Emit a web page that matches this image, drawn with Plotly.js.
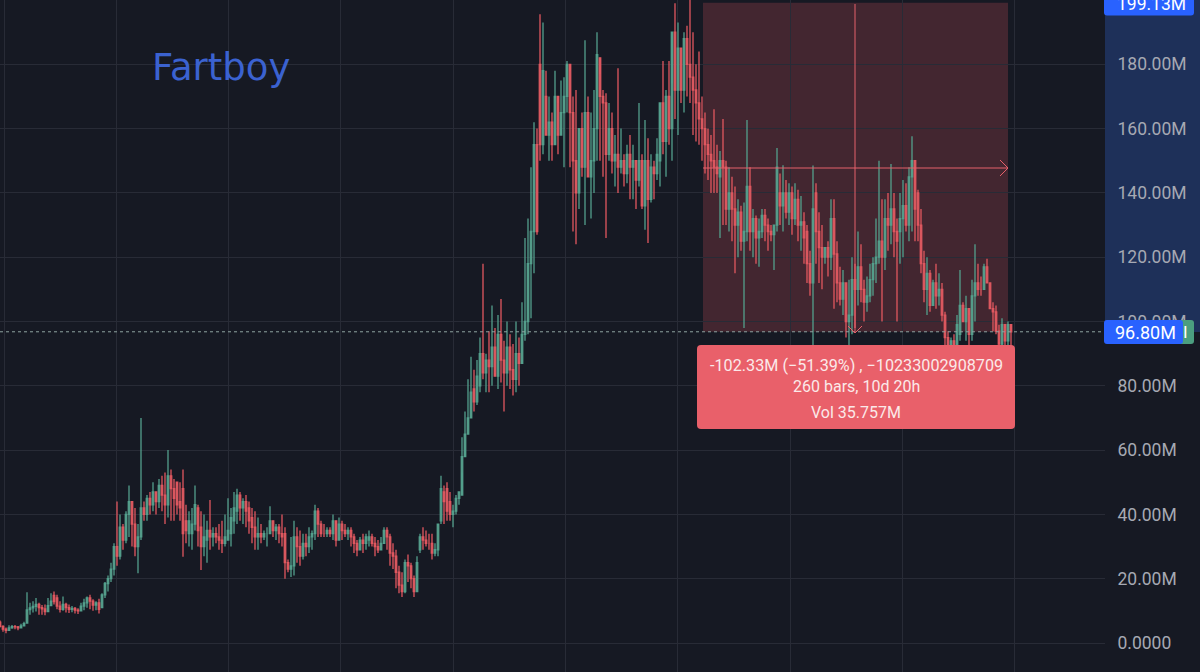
<!DOCTYPE html>
<html><head><meta charset="utf-8">
<script src="https://cdn.plot.ly/plotly-3.0.1.min.js"></script>
<style>html,body{margin:0;padding:0;background:#161923;overflow:hidden}#c{width:1200px;height:672px}</style>
</head><body><div id="c"></div><script>
const highs=[
7,5.5,4.8,5.5,5.6,5.6,5.3,6,6.6,15.8,12.5,13,14,12.5,11.8,12,14,15.5,16,15,
13,14.5,12.5,12,11.5,11.2,10.8,12.5,13.8,14.5,15,13.6,13,13.8,15.5,19,21,25,31,44,
40,37,41,49,44,42,37,70,44,46,47,50,47,51,52,53,60,54,51,49,
50,54,43,41,42,49,43,41,40,38,44.5,36,36,37,38,40,45,42,47,48,
47,45,46,44,42,41,39,37,35,36,42.5,38,37,37,40,36,26,33,38,36,
35,34,34,36,35,43,42,38,37,36,36,40,35,39,38,37,36,36,34,32,
33,34,34,35,34,33,32,33,36,36,34,31,29,24,22,26,27.5,25,21,27,
34,36,35,34,34,31,37,52,49,50,47,43,46,47,64,72,82,89,85,88,
95,118,90,97,105,98,102,107,94,100,96,93,100,95,106,126,132,148,162,160,
195.6,193,178,170,165,178,168,175,176,181,178,170,172,160,165,187.5,170,165,172,190,
177,172,171,168,165,158,178.8,160,152,155,158,155,150,168,152,162.7,157,152,150,157,
160,181,172,181,174,199,193,185,190,192,200,190,180,184,170,165,160,158,166,155,
153,163,150,148,145,142,138,136,137,162.7,148,135,133,132,135,135,132,130,128,154,
146,148.6,144,143,142,143,141,139,134,130,122,148.5,143,134,130,122,125,138,138,125,
117,116,112,113,120,118,128,124,113,114,118,120,132,150,138,138,140,149,140,132,
140,144,143,148,157.6,150,141,135,122,120,116,113,118,115,112,103,97,95,96,102,
116,106,108,102,113,124,118,114,118,119.5,112,106,105,99,101,98,100,97];
const lows=[
4.8,3.5,3,3.9,4.4,4.3,4,4.6,5.2,6,8.8,9.5,9.8,8.8,8.8,8.6,10,11.5,12,10.5,
9.5,10,9.5,9.3,9.6,9.2,9,9.8,10.2,11,10.5,10,10.2,9.2,11,14,16,19,21,24,
26,29,31,33,30,27,21.7,32,38,38,40,41,40,42,41,37,39,38,38,40,
38,26.8,31,30,29,35,30,22.7,27,25,29,30,31,29,28,30,32,30,34,37,
38,37,36,34,31,29,29,31,32,30,34,33,32,31,30,20,22,20.5,21,25,
24,26,27,28,29,32,33,33,33,33,33,32,30,33,32,33,32,30,28,27,
29,28,29,30,30,27,28,29,31,29,24,23,17,15.5,14.3,15.5,19,17,14.3,18,
28,29,30,29,26,27,27,37,37,38,38,36,40,43,53,60,65,70,72,74,
78,82,78,78,80,84,79,81,72,80,79,77,78,80,88,94,96,101,115,127,
150,152,158,150,150,160,152,160,148,165,148,128,124,135,145,130,145,132,140,150,
150,145,126,150,146,142,140,146,142,143,138,138,135,142,135,128.5,124.4,137,138,144,
142,152,145,155,150,163,158,168,165,170,168,158,156,155,150,146,144,140,140,140,
126,130,130,128,125,115,120,122,98,125,122,120,118,117,126,125,122,125,116,128,
130,128,132,130,127,130,125,122,118,112,108,92.7,118,112,110,118,114,116,104,106,
105,102,95,92,96,98,105,106,100,103,106,108,112,118,100,116,122,124,120,100,
118,120,128,125,128,125,125,115,106,102,103,107,104,105,100,92,90,91,91,92,
94,100,94,92,94,100,108,108,110,112,104,97,96,92,92,91,92,91];
const opens=[
6.5,5.2,4.3,3.9,4.7,5.1,5,4.7,5.3,6.2,10.4,10.9,11.4,12,11,10.6,9.8,11.6,14.8,14,
11.5,10.5,12,11,10.5,10.8,10.2,10,11.5,12.5,14,13,11.8,12.5,11,15,18.5,20,23,30,
27,36,32,40,44,37,30,33,42,40,45,43,47,44,49,46,43,52,48,50,
44,48,38,34,34,37,42,36,30,32,35,33,34,33,32,31,32,34,38,41,
46,42,44,42,39,36,33,34,33,34,34,38,35,36,34,34,25,23,24,33,
30,27,31,30,33,34,41,37,34,34,35,34,38,32,37,35,34,35,33,31,
29,32,31,32,33,31,30,29,31,35,33,28,27,22,18,16,25,24,20,16,
29,33,32,31,31,28,29,38,47,48,44,40,41,45,46,58,65,70,79,75,
80,90,84,88,86,92,83,96,88,84,92,85,82,90,87,96,100,118,128,155,
180,155,170,158,162,155,170,158,165,170,180,165,150,140,160,148,165,145,150,160,
182,170,168,152,160,150,152,148,150,146,152,148,150,144,150,136,150,138,148,146,
150,168,156,170,160,190,172,185,172,188,180,176,172,168,163,160,155,152,150,148,
145,150,148,135,140,135,130,134,125,128,142,128,132,126,128,133,130,128,127,130,
140,136,140,134,140,132,138,130,131,128,118,112,140,128,123,120,123,120,132,121,
112,107,112,100,102,113,110,117,110,106,108,113,118,120,125,120,132,130,135,128,
128,132,136,130,145,150,140,130,118,110,115,105,112,108,110,102,95,92,94,92,
96,105,100,104,96,108,112,110,110,117,112,104,103,97,93,99,94,99];
const closes=[
5.2,4.3,3.9,4.7,5.1,5,4.7,5.3,6,10.3,10.9,11.4,12,11,10.6,9.8,11.6,13,12.9,11.5,
10.5,12,11,10.5,10.8,10.2,10,11.5,12.5,14,13,11.8,12.5,10.5,15,18.5,20,23,30,27,
36,32,40,44,37,30,33,42,40,45,43,47,44,49,46,43,52,48,45,43,
42,34,35,38,37,43,35,30,33,35,33,34,33,32,31,33,35,39,42,46,
42,44,41,38,36,33,34,33,34,34,38,35,36,34,33,25,23,24,33,30,
27,31,30,33,34,41,37,34,34,35,34,38,32,37,35,34,35,33,31,29,
32,31,33,33,31,30,29,31,35,33,28,27,22,18,16,25,24,20,16,25,
33,32,31,31,28,29,37,48,44,41,40,41,45,47,58,65,70,78,75,83,
90,84,88,86,92,83,96,88,84,92,85,82,90,87,96,100,118,128,155,128,
155,178,158,162,155,170,158,165,170,180,165,150,140,160,148,165,145,150,160,183,
170,168,152,160,150,152,148,150,146,152,148,150,144,150,136,150,138,148,146,152,
168,156,170,160,190,172,185,172,188,180,176,172,168,163,160,155,152,150,148,146,
150,148,135,140,135,130,134,125,128,142,128,132,126,128,133,130,128,127,130,148,
136,140,134,140,132,138,130,131,126,118,112,135,128,123,120,123,120,132,121,112,
107,112,100,102,113,110,117,110,106,108,113,118,120,125,120,132,130,135,128,125,
132,136,130,145,150,135,130,118,110,115,105,112,108,110,102,95,92,94,92,99,
105,100,104,96,108,112,110,110,117,112,104,103,97,93,99,94,99,96.8];
const bars=closes.map((_,i)=>i);
const tickValues=[0,20,40,60,80,100,120,140,160,180];
const tickLabels=['0.0000','20.00M','40.00M','60.00M','80.00M','100.00M','120.00M','140.00M','160.00M','180.00M'];
const lastPrice=96.8, highPrice=199.13;
const measureLabels=['-102.33M (−51.39%) , −10233002908709','260 bars, 10d 20h','Vol 35.757M'];

const W=1105,H=672;
const px=x=>x/W, py=y=>1-y/H;
const B=x=>x/3;
const red='#e5606a';
function paperLine(x0,y0,x1,y1,c,w,d){return {type:'line',xref:'x',yref:'paper',x0:B(x0),x1:B(x1),y0:py(y0),y1:py(y1),line:{color:c,width:w,dash:d||'solid'},layer:'above'};}
function rounded(x0,y0,x1,y1,r,c){
 const X=px,Y=py;
 const d=`M ${X(x0+r)} ${Y(y0)} L ${X(x1-r)} ${Y(y0)} Q ${X(x1)} ${Y(y0)} ${X(x1)} ${Y(y0+r)} L ${X(x1)} ${Y(y1-r)} Q ${X(x1)} ${Y(y1)} ${X(x1-r)} ${Y(y1)} L ${X(x0+r)} ${Y(y1)} Q ${X(x0)} ${Y(y1)} ${X(x0)} ${Y(y1-r)} L ${X(x0)} ${Y(y0+r)} Q ${X(x0)} ${Y(y0)} ${X(x0+r)} ${Y(y0)} Z`;
 return {type:'path',xref:'paper',yref:'paper',path:d,fillcolor:c,line:{width:0},layer:'above'};
}
const shapes=[
 {type:'rect',xref:'paper',yref:'paper',x0:px(1105),x1:px(1200),y0:py(0),y1:py(332),fillcolor:'#1e3059',line:{width:0},layer:'below'},
 {type:'rect',xref:'x',yref:'y',x0:B(703),x1:B(1008),y0:lastPrice,y1:highPrice,fillcolor:'rgba(229,85,94,0.22)',line:{width:0},layer:'below'},
 {type:'line',xref:'paper',yref:'y',x0:0,x1:1,y0:lastPrice,y1:lastPrice,line:{color:'#8fa3a0',width:1,dash:'dot'},layer:'above'},
 paperLine(855,4,855,333,red,1),
 paperLine(703,168,1008,168,red,1),
 paperLine(1008,168,1000,160,red,1),
 paperLine(1008,168,1000,176,red,1),
 paperLine(855,333,848,326,red,1),
 paperLine(855,333,862,326,red,1),
 rounded(697,345,1015,429,4,'#e9606a'),
 rounded(1170,320,1194,344,3,'#4b9e7f'),
 rounded(1104,320,1183,344,3,'#2962ff'),
 rounded(1104,-4,1194,15.5,3,'#2962ff'),
];
const pa=(x,y,text,size,color,family)=>({xref:'paper',yref:'paper',x:px(x),y:py(y),text,showarrow:false,xanchor:'center',yanchor:'middle',font:{size,color,family:family||'Roboto, sans-serif'}});
const annotations=[
 pa(221,68,'Fartboy',37,'#3b62d0','"DejaVu Sans", sans-serif'),
 pa(856,365,measureLabels[0],16.2,'#fbe9e9'),
 pa(856,386,measureLabels[1],16,'#fbe9e9'),
 pa(856,412,measureLabels[2],16,'#fbe9e9'),
 pa(1151,4,highPrice.toFixed(2)+'M',17.5,'#ffffff'),
 pa(1145,332,lastPrice.toFixed(2)+'M',18,'#ffffff'),
 pa(1185,332,'I',17,'#ffffff'),
];
Plotly.newPlot('c',[{
 type:'candlestick',x:bars,open:opens,high:highs,low:lows,close:closes,
 increasing:{line:{color:'#539f8c',width:1.3},fillcolor:'#7f9a88'},
 decreasing:{line:{color:'#e0575f',width:1.3},fillcolor:'#b9786f'},
 whiskerwidth:0,hoverinfo:'skip',showlegend:false
}],{
 width:1200,height:672,margin:{l:0,r:95,t:0,b:0},
 paper_bgcolor:'#161923',plot_bgcolor:'#161923',showlegend:false,hovermode:false,
 xaxis:{type:'linear',range:[0,W/3],tick0:B(4),dtick:B(112.3),showticklabels:false,ticks:'',gridcolor:'#282b36',gridwidth:1,zeroline:false,showline:false,rangeslider:{visible:false},fixedrange:true},
 yaxis:{side:'right',range:[-9.02,200],tickmode:'array',tickvals:tickValues,ticktext:tickLabels,ticks:'outside',ticklen:8,tickcolor:'rgba(0,0,0,0)',tickfont:{family:'Roboto, sans-serif',size:17.5,color:'#a6a9b3'},gridcolor:'#282b36',gridwidth:1,zeroline:false,showline:false,fixedrange:true},
 shapes,annotations
},{displayModeBar:false,staticPlot:true});
</script></body></html>
